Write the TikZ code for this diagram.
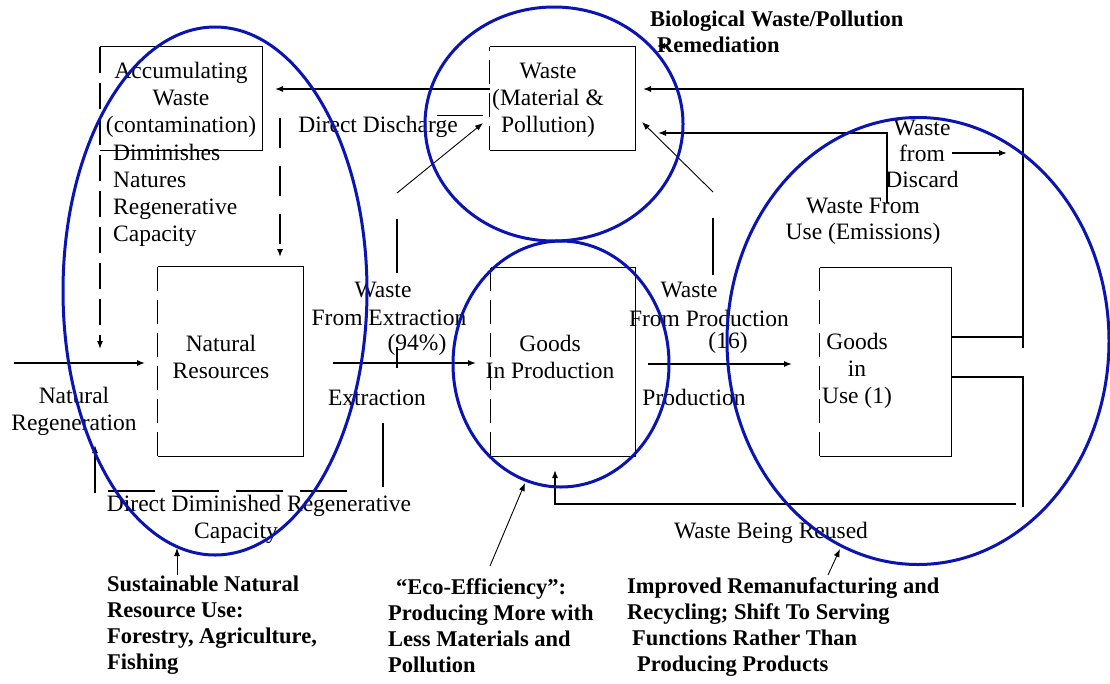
\documentclass[tikz,border=0pt]{standalone}
\usepackage{fontspec}
\setmainfont{Liberation Serif}
\usetikzlibrary{arrows.meta,shapes.geometric}
\definecolor{ringblue}{RGB}{10,20,178}

% frame of a stock: solid top, right and bottom, dashed inflow side
\newcommand\stockframe[1]{%
  \draw[ln] (#1.north west) -- (#1.north east) -- (#1.south east) -- (#1.south west);
  \draw[dashedge] (#1.south west) -- (#1.north west);}

\begin{document}
\begin{tikzpicture}[x=1pt,y=-1pt,
  every node/.style={font=\fontsize{23.5}{27}\selectfont, inner sep=0pt, align=center},
  stock/.style={draw=none, rectangle},
  ln/.style={line width=1.3pt},
  thinln/.style={line width=0.9pt},
  flow/.style={line width=1.3pt, -{Latex[length=8pt,width=6pt]}},
  thinflow/.style={line width=0.9pt, -{Latex[length=8pt,width=6pt]}},
  dashedge/.style={line width=1.3pt, dash pattern=on 24pt off 9pt},
  ring/.style={draw=ringblue, line width=3pt, ellipse, inner sep=0pt},
  note/.style={font=\fontsize{22.5}{26}\selectfont\bfseries, align=left},
]
\useasboundingbox[fill=white] (0,0) rectangle (1110,683);

% ---------- stocks ----------
\node[stock, minimum width=162pt, minimum height=103pt] (accum) at (181,98.5) {};
\node[stock, minimum width=145pt, minimum height=103pt] (waste) at (562.5,98.5) {};
\node[stock, minimum width=145pt, minimum height=189pt] (natres) at (230.5,361.5) {};
\node[stock, minimum width=144pt, minimum height=188pt] (gprod) at (563,362) {};
\node[stock, minimum width=131pt, minimum height=188pt] (guse) at (885.5,362) {};

\draw[ln] (accum.north west) -- (accum.north east) -- (accum.south east) -- (accum.south west);
\stockframe{waste}
\stockframe{natres}
\stockframe{gprod}
\stockframe{guse}

% ---------- stock texts ----------
\node (accumtxt) at (181,100) {Accumulating\\Waste\\(contamination)};
\node (wastetxt) at (548,100) {Waste\\(Material \&\\Pollution)};
\node (natrestxt) at (221,357) {Natural\\Resources};
\node (gprodtxt) at (550,357) {Goods\\In Production};
\node (gusetxt) at (857,371) {Goods\\in\\Use (1)};

% ---------- main flows ----------
\coordinate (regen-in) at (14,363);
\coordinate (regen-end) at (145,363);
\coordinate (extr-a) at (333,363);
\coordinate (extr-end) at (476,363);
\coordinate (prod-a) at (648,364);
\coordinate (prod-end) at (792,364);
\draw[flow] (regen-in) -- (regen-end);
\draw[flow] (extr-a) -- (extr-end);
\draw[flow] (prod-a) -- (prod-end);

\node (regentxt) at (74,411) {Natural\\Regeneration};
\node (extrtxt) at (377,398) {Extraction};
\node (prodtxt) at (694,397) {Production};

% ---------- waste from extraction ----------
\draw[ln] (397,368) -- (397,347);
\draw[ln] (397,273) -- (397,219);
\draw[thinflow] (397,193) -- (483,123);
\node (wx1) at (383,290) {Waste};
\node (wx2) at (389,318) {From Extraction};
\node (wx3) at (417,345) {(94\%)};

% ---------- waste from production ----------
\draw[ln] (713,275) -- (713,218);
\draw[thinflow] (713,192) -- (642,122);
\node (wp1) at (689,290) {Waste};
\node (wp2) at (709,318) {From Production};
\node (wp3) at (728,343) {(16)};

% ---------- direct discharge ----------
\coordinate (dd-end) at (275,89);
\draw[flow] (waste.west |- dd-end) -- (dd-end);
\draw[thinln] (437,115) -- (483,115);
\node (ddtxt) at (378,127) {Direct Discharge};

% ---------- accumulated waste diminishing nature ----------
\draw[ln, dash pattern=on 26pt off 10pt, -{Latex[length=8pt,width=6pt]}] (100,47) -- (100,349);
\draw[ln, dash pattern=on 30pt off 18pt, -{Latex[length=8pt,width=6pt]}] (280,118) -- (280,257);
\node[anchor=west, align=left] (dimtxt) at (113,195) {Diminishes\\Natures\\Regenerative\\Capacity};

% ---------- direct diminished regenerative capacity ----------
\draw[ln] (383,423) -- (383,487);
\draw[ln, dash pattern=on 47pt off 17pt] (108,491) -- (353,491);
\draw[flow] (95,493) -- (95,445);
\node (ddr1) at (259,506) {Direct Diminished Regenerative};
\node (ddr2) at (236,533) {Capacity};

% ---------- goods in use outflows ----------
\draw[ln] (1023,348) -- (1023,337);
\draw[flow] (guse.east |- 0,337) -| (1023,89) -- (643,89);
\draw[flow] (887,203) |- (658,133);
\draw[flow] (952,153) -- (1007,153);
\node[font=\fontsize{23.5}{26}\selectfont] (discardtxt) at (922,154) {Waste\\from\\Discard};
\node[font=\fontsize{23.5}{26}\selectfont] (emistxt) at (863,221) {Waste From\\Use (Emissions)};

% ---------- reuse loop ----------
\draw[ln] (guse.east |- 0,377) -| (1023,507);
\draw[flow] (1016,504) -| (555,470);
\node (reusetxt) at (771,533) {Waste Being Reused};

% ---------- strategy rings ----------
\node[ring, minimum width=304pt, minimum height=528pt] (ringnat) at (215,291) {};
\node[ring, minimum width=258pt, minimum height=234pt] (ringbio) at (554,124) {};
\node[ring, minimum width=216pt, minimum height=246pt] (ringeco) at (561,364) {};
\node[ring, minimum width=382pt, minimum height=447pt] (ringuse) at (918,341) {};

% ---------- strategy notes ----------
\node[note, anchor=west] (notebio) at (650,32)
  {\fontsize{22.5}{29}\selectfont Biological Waste/Pollution\\\hspace*{7pt}Remediation};
\draw[thinflow] (668,46) -- (657,46);

\node[note, anchor=west] (notenat) at (107,625.5)
  {Sustainable Natural\\Resource Use:\\Forestry, Agriculture,\\Fishing};
\draw[thinflow] (177,575) -- (177,548);

\node[note, anchor=west] (noteeco) at (388,625.5)
  {\hspace*{8pt}“Eco-Efficiency”:\\Producing More with\\Less Materials and\\Pollution};
\draw[thinflow] (490,566) -- (525,483);

\node[note, anchor=west] (noteuse) at (627,627)
  {Improved Remanufacturing and\\Recycling; Shift To Serving\\\hspace*{5pt}Functions Rather Than\\\hspace*{10pt}Producing Products};
\draw[thinflow] (828,575) -- (840,549);

\end{tikzpicture}
\end{document}
